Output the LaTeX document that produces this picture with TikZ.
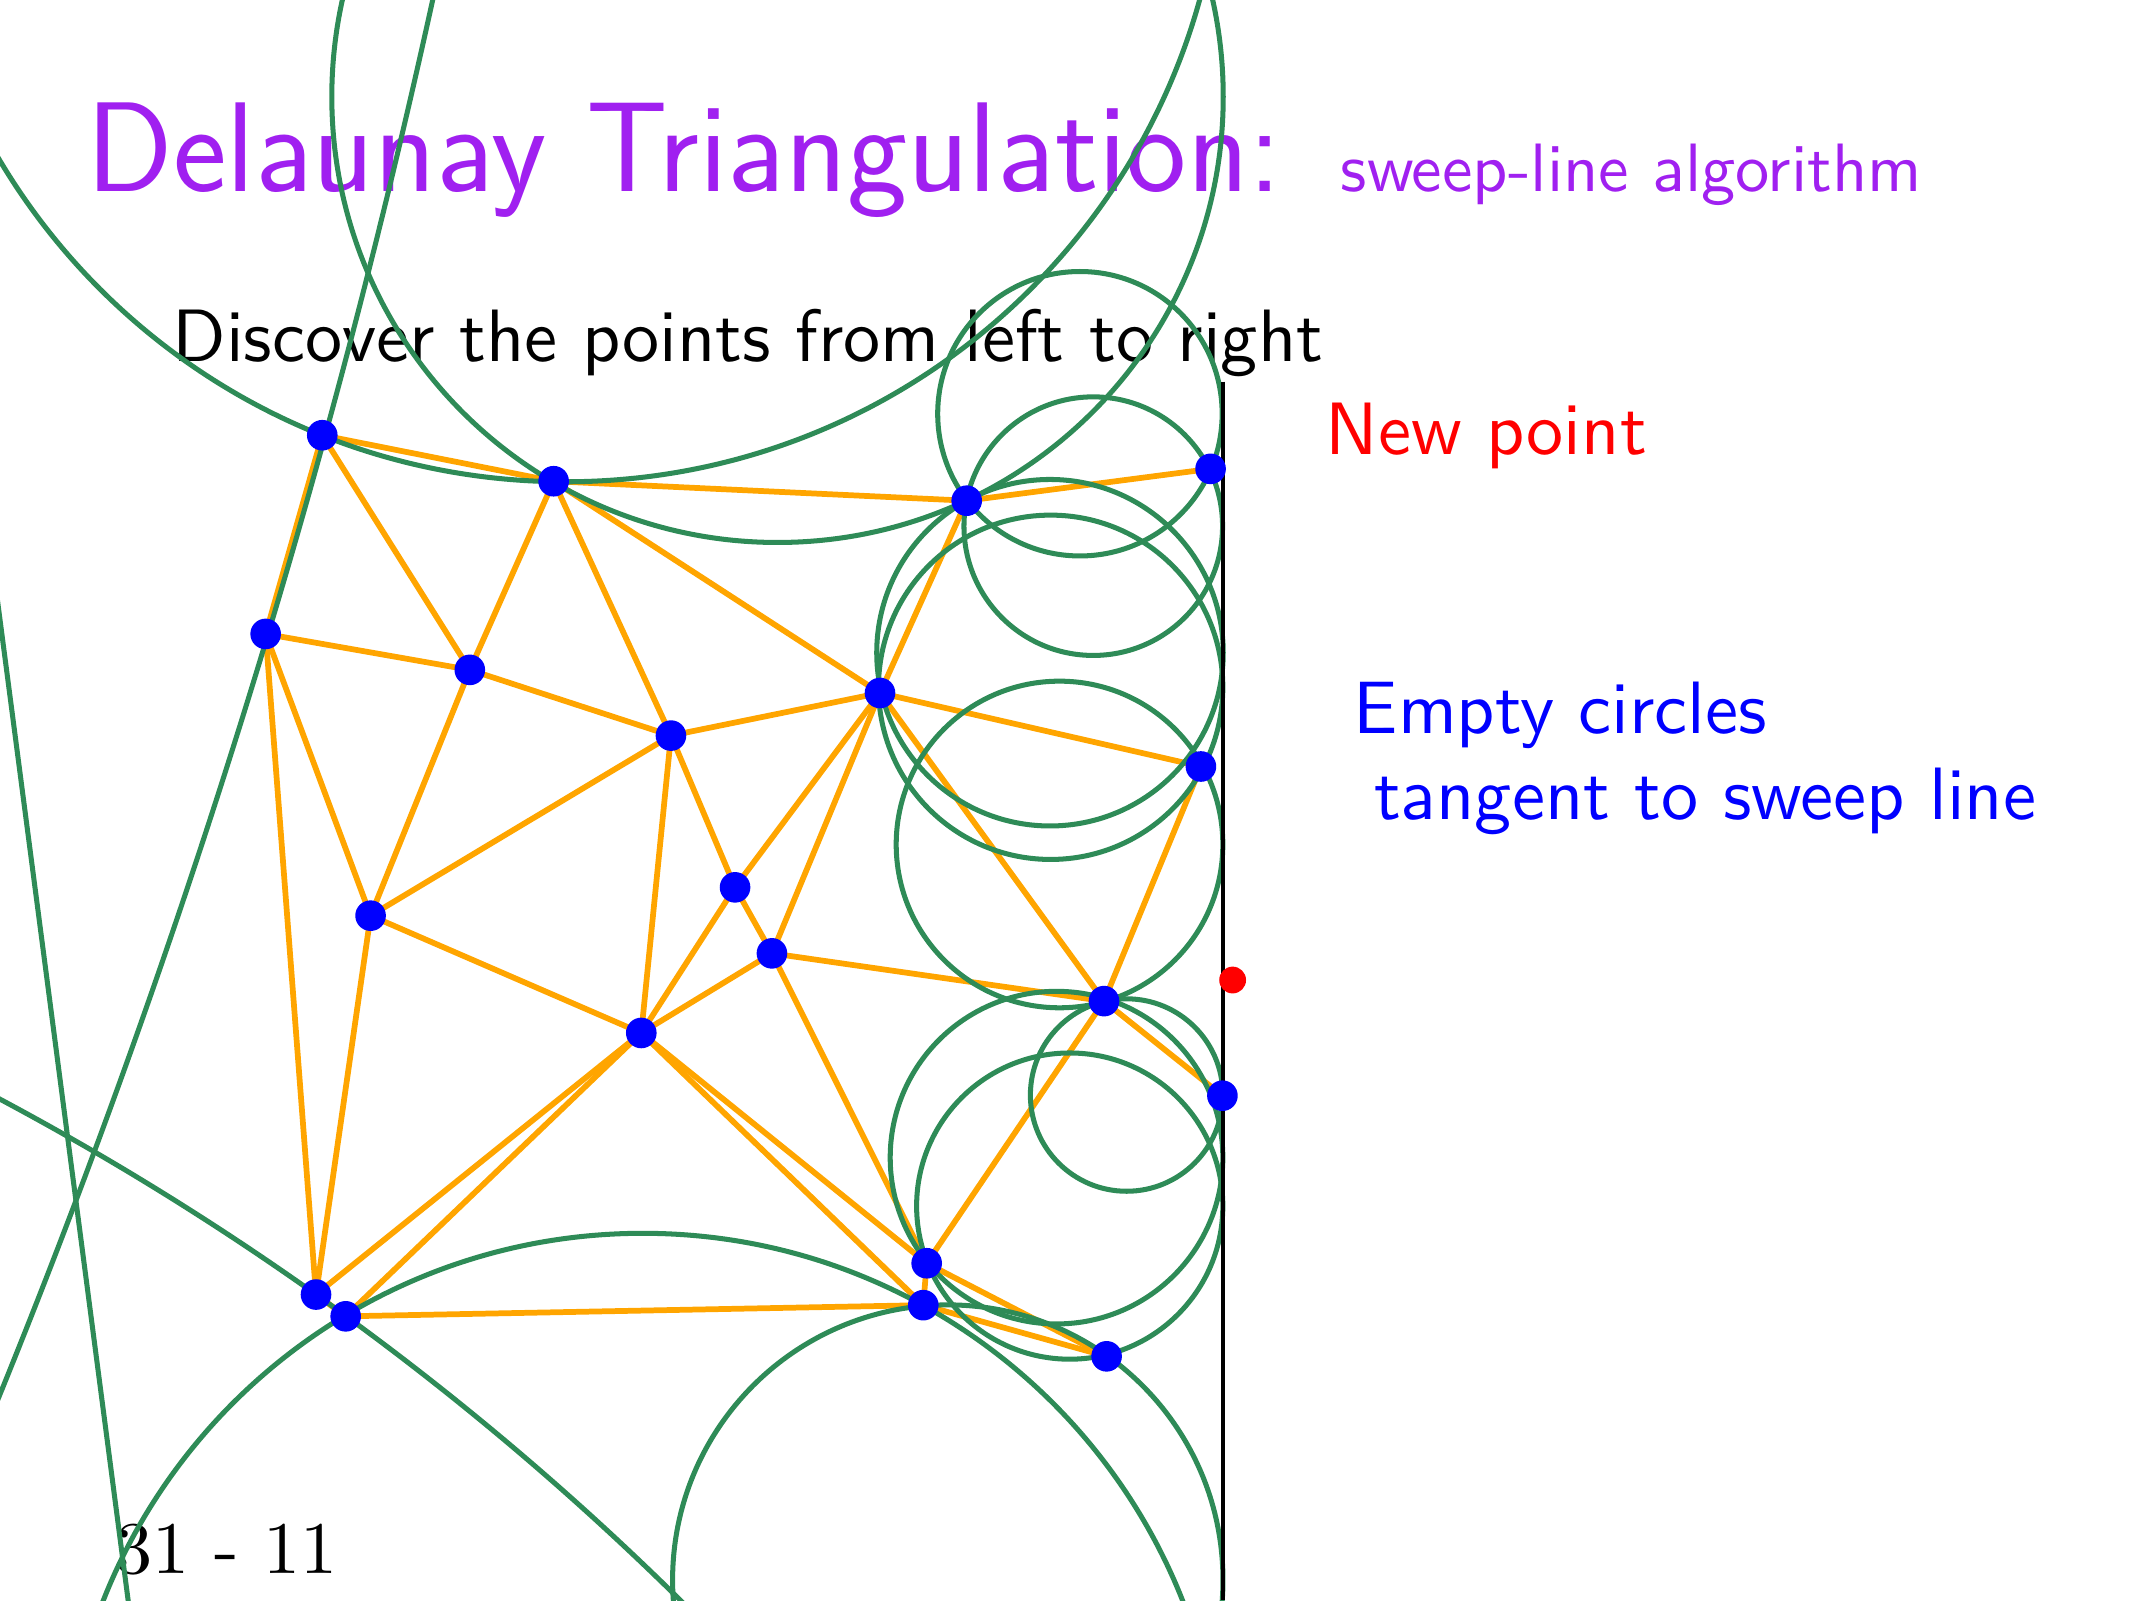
\documentclass[tikz,border=0pt]{standalone}
\usepackage{fontspec}
\newfontfamily\titlefont{lmsans17-regular.otf}
\newfontfamily\bodyfont{lmsans10-regular.otf}
\newfontfamily\pagefont{lmroman10-regular.otf}
\definecolor{orangeedge}{HTML}{FFA500}
\definecolor{circgreen}{HTML}{2E8B57}
\definecolor{titlepurple}{HTML}{A020F0}
\begin{document}
\begin{tikzpicture}[x=0.01cm,y=-0.01cm,
  edge/.style={draw=orangeedge, line width=1.2pt},
  emptycirc/.style={draw=circgreen, line width=1.05pt},
  bdot/.style={circle, fill=blue, inner sep=0pt, minimum size=6.4pt},
  rdot/.style={circle, fill=red, inner sep=0pt, minimum size=5.6pt},
  txt/.style={anchor=base west, inner sep=0pt},
  body/.style={txt, font=\bodyfont\fontsize{15.5}{18.6}\selectfont}]
\useasboundingbox (0,0) rectangle (1568,1176);

% texts
\node[txt, text=titlepurple, font=\titlefont\fontsize{26.7}{32}\selectfont] (title) at (63,141) {Delaunay Triangulation:};
\node[txt, text=titlepurple, font=\bodyfont\fontsize{14.3}{17}\selectfont] (subtitle) at (984.5,140.8) {sweep-line algorithm};
\node[body] (discover) at (126,265.7) {Discover the points from left to right};
\node[body, text=red] (newlbl) at (973.3,333.6) {New point};
\node[body, text=blue] (emptylbl) at (994,538.8) {Empty circles};
\node[body, text=blue] (tanlbl) at (1009,602.5) {tangent to sweep line};
\node[txt, font=\pagefont\fontsize{15.5}{18.6}\selectfont] (pagenum) at (84,1156) {31 - 11};

% points
\coordinate (p1) at (236.8,319.8);
\coordinate (p2) at (406.8,353.6);
\coordinate (p3) at (710.3,367.9);
\coordinate (p4) at (889.5,344.5);
\coordinate (p5) at (195.2,465.8);
\coordinate (p6) at (345.2,492.2);
\coordinate (p7) at (493,540.5);
\coordinate (p8) at (646.6,509.2);
\coordinate (p9) at (882.4,563.2);
\coordinate (p10) at (272.3,672.8);
\coordinate (p11) at (540.1,652);
\coordinate (p12) at (567.2,700.5);
\coordinate (p13) at (471.2,759);
\coordinate (p14) at (811.2,735.6);
\coordinate (p15) at (898.2,805.1);
\coordinate (p16) at (232.2,951.2);
\coordinate (p17) at (254,967.2);
\coordinate (p18) at (680.9,928.2);
\coordinate (p19) at (678.4,959);
\coordinate (p20) at (813.1,996.6);
\coordinate (newp) at (905.7,720.1);

% Delaunay edges
\foreach \a/\b in {p1/p2,p1/p5,p1/p6,p2/p6,p2/p3,p2/p7,p2/p8,p3/p4,p3/p8,
  p5/p6,p5/p10,p5/p16,p6/p7,p6/p10,p7/p8,p7/p10,p7/p11,p7/p13,
  p8/p11,p8/p12,p8/p9,p8/p14,p9/p14,p10/p13,p10/p16,p11/p12,p11/p13,
  p12/p13,p12/p14,p12/p18,p13/p16,p13/p17,p13/p18,p13/p19,p14/p15,
  p14/p18,p16/p17,p17/p19,p18/p19,p18/p20,p19/p20}
  \draw[edge] (\a) -- (\b);

% empty circles
\begin{scope}
\clip (0,0) rectangle (1568,1176);
\draw[emptycirc] (415.4,-129.6) circle (483.6);
\draw[emptycirc] (571.3,71.1) circle (327.5);
\draw[emptycirc] (793.5,304) circle (104.5);
\draw[emptycirc] (803.3,386.6) circle (95);
\draw[emptycirc] (771.5,479.6) circle (127.3);
\draw[emptycirc] (772,505) circle (126.5);
\draw[emptycirc] (778.5,620.5) circle (120);
\draw[emptycirc] (827.8,804.6) circle (70.7);
\draw[emptycirc] (776.3,850.6) circle (122.2);
\draw[emptycirc] (786,886.2) circle (112.5);
\draw[emptycirc] (696.4,1161) circle (202.2);
\draw[emptycirc] (472.4,1332.3) circle (426.1);
\draw[emptycirc] (-1010,2705) circle (2149);
\draw[emptycirc] (-5906,-1372) circle (6372);
\coordinate (l1a) at (-2,440);
\coordinate (l1b) at (96,1190);
\draw[emptycirc] (l1a) -- (l1b);
\end{scope}

% sweep line
\coordinate (stop) at (898.5,280.5);
\coordinate (sbot) at (898.5,1176);
\draw[line width=0.7pt] (stop) -- (sbot);

% dots
\foreach \p in {p1,p2,p3,p4,p5,p6,p7,p8,p9,p10,p11,p12,p13,p14,p15,p16,p17,p18,p19,p20}
  \node[bdot] (d\p) at (\p) {};
\node[rdot] (dnew) at (newp) {};
\end{tikzpicture}
\end{document}
